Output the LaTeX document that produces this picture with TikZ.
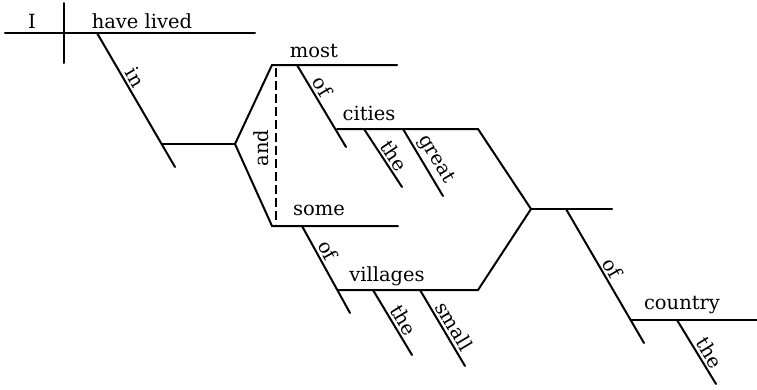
\documentclass[tikz,border=0pt]{standalone}
\usepackage{fontspec}
\setmainfont{DejaVu Serif}
\begin{document}
\begin{tikzpicture}[x=1pt,y=-1pt,
  ln/.style={line width=2pt, line cap=round},
  wf/.style={font=\fontsize{19.5}{23}\selectfont},
  word/.style={wf, inner sep=0pt, anchor=base},
  slab/.style={wf, sloped, above, inner sep=2.5pt}]
\useasboundingbox (0,0) rectangle (757,389);
% coordinates
\coordinate (m0) at (5,33);   \coordinate (m1) at (255,33);
\coordinate (d0) at (64,3);   \coordinate (d1) at (64,63);
\coordinate (in0) at (97,33); \coordinate (in1) at (175,167);
\coordinate (h0) at (162,144); \coordinate (f1) at (235,144);
\coordinate (t0) at (272,65);  \coordinate (t1) at (397,65);
\coordinate (b0) at (272,226); \coordinate (b1) at (398,226);
\coordinate (o10) at (297,65); \coordinate (o11) at (346,147);
\coordinate (c0) at (337,129); \coordinate (c1) at (478,129);
\coordinate (f2) at (531,209); \coordinate (f3) at (612,209);
\coordinate (th10) at (364,129); \coordinate (th11) at (402,187);
\coordinate (g0) at (403,129); \coordinate (g1) at (443,196);
\coordinate (dd0) at (276,68); \coordinate (dd1) at (276,224);
\coordinate (o20) at (302,226); \coordinate (o21) at (350,313);
\coordinate (v0) at (338,290); \coordinate (v1) at (478,290);
\coordinate (th20) at (373,290); \coordinate (th21) at (412,355);
\coordinate (s0) at (420,290); \coordinate (s1) at (465,366);
\coordinate (o30) at (566,209); \coordinate (o31) at (644,343);
\coordinate (k0) at (631,320); \coordinate (k1) at (757,320);
\coordinate (th30) at (677,320); \coordinate (th31) at (716,384);
% lines
\draw[ln] (m0) -- (m1);
\draw[ln] (d0) -- (d1);
\draw[ln] (in0) -- node[slab, pos=0.37] (lin) {in} (in1);
\draw[ln] (h0) -- (f1);
\draw[ln] (t1) -- (t0) -- (f1) -- (b0) -- (b1);
\draw[ln] (o10) -- node[slab, pos=0.33] (lof1) {of} (o11);
\draw[ln] (c0) -- (c1) -- (f2) -- (v1) -- (v0);
\draw[ln] (f2) -- (f3);
\draw[ln] (th10) -- node[slab, pos=0.56] (lth1) {the} (th11);
\draw[ln] (g0) -- node[slab, pos=0.55] (lg) {great} (g1);
\draw[line width=2pt, dash pattern=on 9pt off 4pt] (dd0) -- (dd1);
\draw[ln] (o20) -- node[slab, pos=0.34] (lof2) {of} (o21);
\draw[ln] (th20) -- node[slab, pos=0.55] (lth2) {the} (th21);
\draw[ln] (s0) -- node[slab, pos=0.55] (ls) {small} (s1);
\draw[ln] (o30) -- node[slab, pos=0.48] (lof3) {of} (o31);
\draw[ln] (k0) -- (k1);
\draw[ln] (th30) -- node[slab, pos=0.6] (lth3) {the} (th31);
% words
\node[word] (wI) at (32,28) {I};
\node[word] (whl) at (142,28) {have lived};
\node[word] (wmost) at (314,57) {most};
\node[word] (wcities) at (369,120) {cities};
\node[word] (wsome) at (319,215) {some};
\node[word] (wvill) at (387,281) {villages};
\node[word] (wcountry) at (682,309) {country};
\node[wf, inner sep=0pt, rotate=90] (wand) at (261,148) {and};
\end{tikzpicture}
\end{document}
